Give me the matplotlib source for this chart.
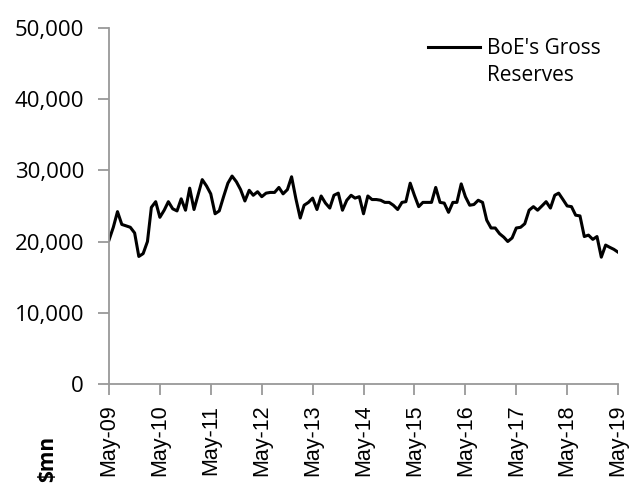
import matplotlib
matplotlib.use("Agg")
import matplotlib.pyplot as plt
import matplotlib.dates as mdates
import matplotlib.ticker as mticker
import pandas as pd

plt.rcParams['font.family'] = ['Open Sans', 'DejaVu Sans']

# monthly gross reserves, $mn, May-09 .. May-19
reserves = [
    20200, 22000, 24200, 22400, 22200, 22000, 21200, 17900, 18300, 20000,
    24800, 25600, 23400, 24400, 25600, 24600, 24300, 26000, 24400, 27500,
    24500, 26700, 28700, 27800, 26700, 23900, 24300, 26300, 28200, 29200,
    28400, 27300, 25700, 27200, 26500, 27000, 26300, 26800, 26900, 26900,
    27600, 26700, 27300, 29100, 26000, 23300, 25100, 25500, 26100, 24500,
    26400, 25400, 24700, 26500, 26800, 24400, 25800, 26500, 26100, 26300,
    23900, 26400, 25900, 25900, 25800, 25500, 25500, 25100, 24500, 25500,
    25600, 28200, 26500, 24900, 25500, 25500, 25500, 27600, 25500, 25400,
    24100, 25500, 25500, 28100, 26300, 25100, 25200, 25800, 25500, 23000,
    21900, 21900, 21100, 20600, 20000, 20500, 21900, 22000, 22500, 24400,
    24900, 24400, 25000, 25600, 24700, 26500, 26800, 25900, 25000, 24900,
    23700, 23600, 20700, 20900, 20300, 20700, 17800, 19500, 19200, 18900,
    18500,
]
dates = pd.date_range("2009-05-01", periods=len(reserves), freq="MS")
label_line1 = "BoE's Gross"
label_line2 = "Reserves"
unit_label = "$mn"

fig = plt.figure(figsize=(6.3, 4.84), dpi=100)
ax = fig.add_axes([0.173, 0.207, 0.808, 0.735])

ax.plot(dates, reserves, color='black', lw=2.2, label=label_line1)

ax.set_ylim(0, 50000)
ax.set_xlim(dates[0], dates[-1])
ax.yaxis.set_major_locator(mticker.MultipleLocator(10000))
ax.yaxis.set_major_formatter(mticker.FuncFormatter(lambda v, p: f"{int(v):,}"))
ax.xaxis.set_major_locator(mdates.MonthLocator(bymonth=5))
ax.xaxis.set_major_formatter(mdates.DateFormatter('%b-%y'))

for s in ['top', 'right']:
    ax.spines[s].set_visible(False)
for s in ['left', 'bottom']:
    ax.spines[s].set_color('#999999')
    ax.spines[s].set_linewidth(1.3)
ax.tick_params(axis='both', colors='#999999', labelcolor='black',
               length=8, width=1.3)
ax.tick_params(axis='y', labelsize=16, pad=10)
ax.tick_params(axis='x', labelrotation=90, labelsize=15.5, pad=7)
for t in ax.get_xticklabels():
    t.set_family(['Liberation Sans', 'DejaVu Sans'])

leg = ax.legend(loc='upper left', frameon=False, fontsize=15, handlelength=2.5,
                handletextpad=0.33, borderpad=0, borderaxespad=0,
                bbox_to_anchor=(428 / 630, 1 - 38 / 484),
                bbox_transform=fig.transFigure)
fig.canvas.draw()
tb = leg.get_texts()[0].get_window_extent().transformed(fig.transFigure.inverted())
fig.text(tb.x0, tb.y0 - 0.012, label_line2, fontsize=15, ha='left', va='top')

fig.text(0.075, 1 - 436 / 484, unit_label, rotation=90, fontsize=15,
         fontweight='bold', ha='center', va='top')

fig.savefig("out.png", dpi=100)
